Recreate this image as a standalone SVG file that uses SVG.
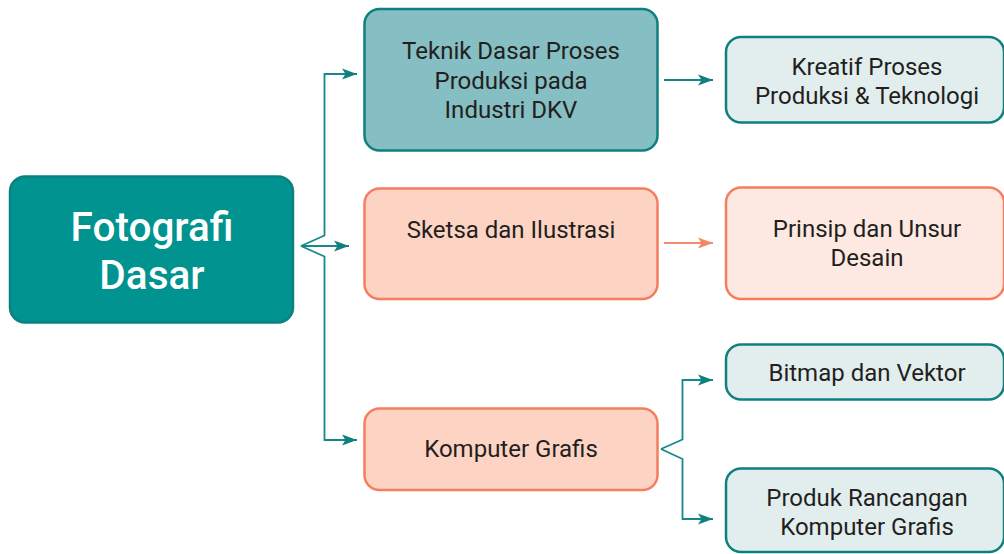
<svg xmlns="http://www.w3.org/2000/svg" width="1004" height="554" viewBox="0 0 1004 554">
  <defs>
    <marker id="arrTeal" markerUnits="userSpaceOnUse" markerWidth="16" markerHeight="12" refX="15" refY="6" orient="auto">
      <path d="M0,0.5 L15,6 L0,11.5 L3.5,6 Z" fill="#0f807d"/>
    </marker>
    <marker id="arrCoral" markerUnits="userSpaceOnUse" markerWidth="16" markerHeight="12" refX="15" refY="6" orient="auto">
      <path d="M0,0.5 L15,6 L0,11.5 L3.5,6 Z" fill="#f4876a"/>
    </marker>
  </defs>
  <style>
    .box { stroke-width: 2.5; }
    .root { fill: #009390; stroke: #0b827f; }
    .teal { fill: #85bec3; stroke: #0f807d; }
    .tealLight { fill: #e2eeee; stroke: #0f807d; }
    .coral { fill: #fdd4c4; stroke: #f47e5f; }
    .coralLight { fill: #fde9e1; stroke: #f47e5f; }
    text { font-family: Roboto, "Liberation Sans", sans-serif; font-size: 24px; fill: #231f20; text-anchor: middle; }
    .rootText { font-size: 40.5px; fill: #ffffff; font-weight: 500; }
    .conn { fill: none; stroke-width: 1.8; }
    .connTeal { stroke: #15888a; }
    .connCoral { stroke: #f58b6f; }
  </style>

  <!-- connectors -->
  <g id="connectors">
    <path class="conn connTeal" d="M301,246 L324.5,235.5 L324.5,74 L357,74" marker-end="url(#arrTeal)"/>
    <path class="conn connTeal" d="M301,246 L349,246" marker-end="url(#arrTeal)"/>
    <path class="conn connTeal" d="M301,246 L324.5,256.5 L324.5,440 L357,440" marker-end="url(#arrTeal)"/>
    <path class="conn connTeal" d="M664,80 L713,80" marker-end="url(#arrTeal)"/>
    <path class="conn connCoral" d="M664,243 L713,243" marker-end="url(#arrCoral)"/>
    <path class="conn connTeal" d="M661,449 L682.5,439.5 L682.5,380 L713,380" marker-end="url(#arrTeal)"/>
    <path class="conn connTeal" d="M661,449 L682.5,459 L682.5,519 L713,519" marker-end="url(#arrTeal)"/>
  </g>

  <!-- root -->
  <g id="node-fotografi-dasar">
    <rect class="box root" x="10" y="176.5" width="283" height="146" rx="15"/>
    <text class="rootText" x="152" y="241">Fotografi</text>
    <text class="rootText" x="152" y="289">Dasar</text>
  </g>

  <!-- second level -->
  <g id="node-teknik-dasar">
    <rect class="box teal" x="364.5" y="9" width="293" height="141.5" rx="15"/>
    <text x="511" y="59">Teknik Dasar Proses</text>
    <text x="511" y="88.5">Produksi pada</text>
    <text x="511" y="118">Industri DKV</text>
  </g>

  <g id="node-sketsa">
    <rect class="box coral" x="364.5" y="188.5" width="293" height="110.5" rx="15"/>
    <text x="511" y="238">Sketsa dan Ilustrasi</text>
  </g>

  <g id="node-komputer-grafis">
    <rect class="box coral" x="364.5" y="408.5" width="293" height="81.5" rx="15"/>
    <text x="511" y="457">Komputer Grafis</text>
  </g>

  <!-- third level -->
  <g id="node-kreatif">
    <rect class="box tealLight" x="726" y="37" width="278" height="85.5" rx="15"/>
    <text x="867" y="75">Kreatif Proses</text>
    <text x="867" y="104">Produksi &amp; Teknologi</text>
  </g>

  <g id="node-prinsip">
    <rect class="box coralLight" x="726" y="187.5" width="278" height="111.5" rx="15"/>
    <text x="867" y="236.5">Prinsip dan Unsur</text>
    <text x="867" y="265.5">Desain</text>
  </g>

  <g id="node-bitmap">
    <rect class="box tealLight" x="726" y="344.5" width="278" height="55" rx="15"/>
    <text x="867" y="380.5">Bitmap dan Vektor</text>
  </g>

  <g id="node-produk">
    <rect class="box tealLight" x="726" y="468.5" width="278" height="83.5" rx="15"/>
    <text x="867" y="506">Produk Rancangan</text>
    <text x="867" y="535">Komputer Grafis</text>
  </g>
</svg>
